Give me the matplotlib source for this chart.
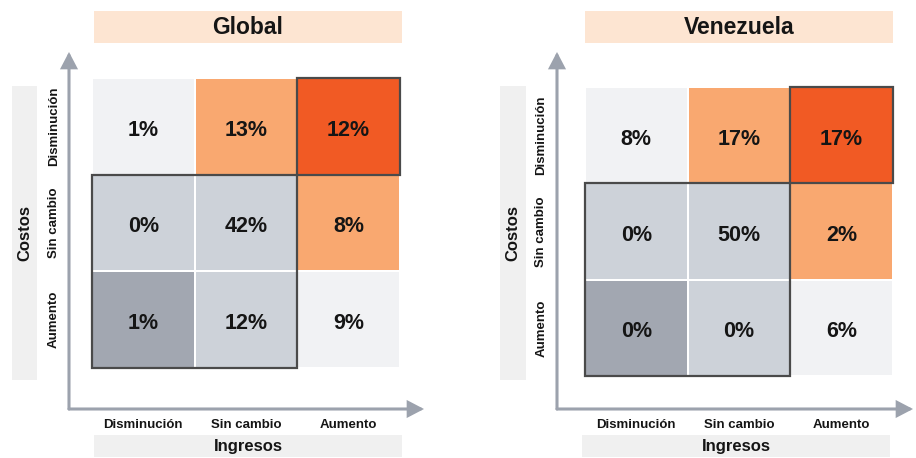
import matplotlib.pyplot as plt
import numpy as np
from matplotlib.colors import ListedColormap
from matplotlib.patches import Rectangle, FancyArrowPatch

plt.rcParams['font.family'] = ['Liberation Sans', 'DejaVu Sans']

W, H = 916, 458

# data
cost_labels = ['Disminución', 'Sin cambio', 'Aumento']     # rows, top -> bottom
income_labels = ['Disminución', 'Sin cambio', 'Aumento']   # columns, left -> right
panel_titles = ['Global', 'Venezuela']
global_pct = [[1, 13, 12], [0, 42, 8], [1, 12, 9]]
venezuela_pct = [[8, 17, 17], [0, 50, 2], [0, 0, 6]]
panel_values = [global_pct, venezuela_pct]

# styling: shade class per cell (same quadrant scheme in both panels)
palette = ['#F1F2F4', '#F9A870', '#F15A24', '#CDD2D9', '#A2A7B1']
shade_idx = [[0, 1, 2],
             [3, 3, 1],
             [4, 3, 0]]
cmap = ListedColormap(palette)

ARROW = '#9CA2AD'
OUTLINE = '#4A4A4A'
TITLE_BG = '#FDE5D2'
LABEL_BG = '#F0F0F0'
TEXT = '#151515'

# layout in pixels (top-left origin)
layouts = [
    dict(grid=(92, 78, 400, 368), title=(94, 11, 402, 43), side=(12, 86, 37, 380),
         bottom=(94, 435, 402, 457), corner=(69, 409), up=52, right=424, xpad=37, ypad=23),
    dict(grid=(585, 87, 893, 376), title=(585, 11, 893, 43), side=(500, 86, 526, 380),
         bottom=(582, 435, 890, 457), corner=(557, 409), up=52, right=913, xpad=31, ypad=27),
]


def frac(box):
    x0, y0, x1, y1 = box
    return [x0 / W, 1 - y1 / H, (x1 - x0) / W, (y1 - y0) / H]


def pt(x, y):
    return (x / W, 1 - y / H)


def label_box(fig, box, text, color, size):
    l, b, w, h = frac(box)
    fig.add_artist(Rectangle((l, b), w, h, transform=fig.transFigure,
                             facecolor=color, edgecolor='none', zorder=0))
    return fig.text(l + w / 2, b + h / 2, text, ha='center', va='center',
                    fontsize=size, fontweight='bold', color=TEXT)


fig = plt.figure(figsize=(W / 100, H / 100), dpi=100)

for title, values, lay in zip(panel_titles, panel_values, layouts):
    ax = fig.add_axes(frac(lay['grid']))
    n_rows, n_cols = len(cost_labels), len(income_labels)
    ax.pcolormesh(np.arange(n_cols + 1) - 0.5, np.arange(n_rows + 1) - 0.5,
                  np.array(shade_idx), cmap=cmap, vmin=-0.5, vmax=len(palette) - 0.5,
                  edgecolors='white', linewidth=1.2)
    ax.set_xlim(-0.5, n_cols - 0.5)
    ax.set_ylim(n_rows - 0.5, -0.5)

    for i in range(n_rows):
        for j in range(n_cols):
            ax.text(j, i + 0.04, f'{values[i][j]}%', ha='center', va='center',
                    fontsize=15.5, fontweight='bold', color=TEXT)

    # highlighted blocks: top-right cell and lower-left 2x2 block
    ax.add_patch(Rectangle((1.5, -0.5), 1, 1, fill=False, edgecolor=OUTLINE,
                           linewidth=1.6, clip_on=False, zorder=4))
    ax.add_patch(Rectangle((-0.5, 0.5), 2, 2, fill=False, edgecolor=OUTLINE,
                           linewidth=1.6, clip_on=False, zorder=4))

    ax.set_xticks(range(n_cols), income_labels, fontsize=9.5, fontweight='bold')
    ax.set_yticks(range(n_rows), cost_labels, fontsize=9.5, fontweight='bold',
                  rotation=90, va='center')
    ax.tick_params(axis='x', length=0, pad=lay['xpad'], colors=TEXT)
    ax.tick_params(axis='y', length=0, pad=lay['ypad'], colors=TEXT)
    for s in ax.spines.values():
        s.set_visible(False)

    label_box(fig, lay['title'], title, TITLE_BG, 16.5)
    t = label_box(fig, lay['side'], 'Costos', LABEL_BG, 12)
    t.set_rotation(90)
    label_box(fig, lay['bottom'], 'Ingresos', LABEL_BG, 12)

    cx, cy = lay['corner']
    for tip in (pt(cx, lay['up']), pt(lay['right'], cy)):
        fig.add_artist(FancyArrowPatch(pt(cx, cy), tip, transform=fig.transFigure,
                                       arrowstyle='-|>,head_length=0.9,head_width=0.47',
                                       mutation_scale=10, color=ARROW, linewidth=2.2,
                                       shrinkA=0, shrinkB=0, joinstyle='miter'))

fig.savefig('out.png', dpi=100)
